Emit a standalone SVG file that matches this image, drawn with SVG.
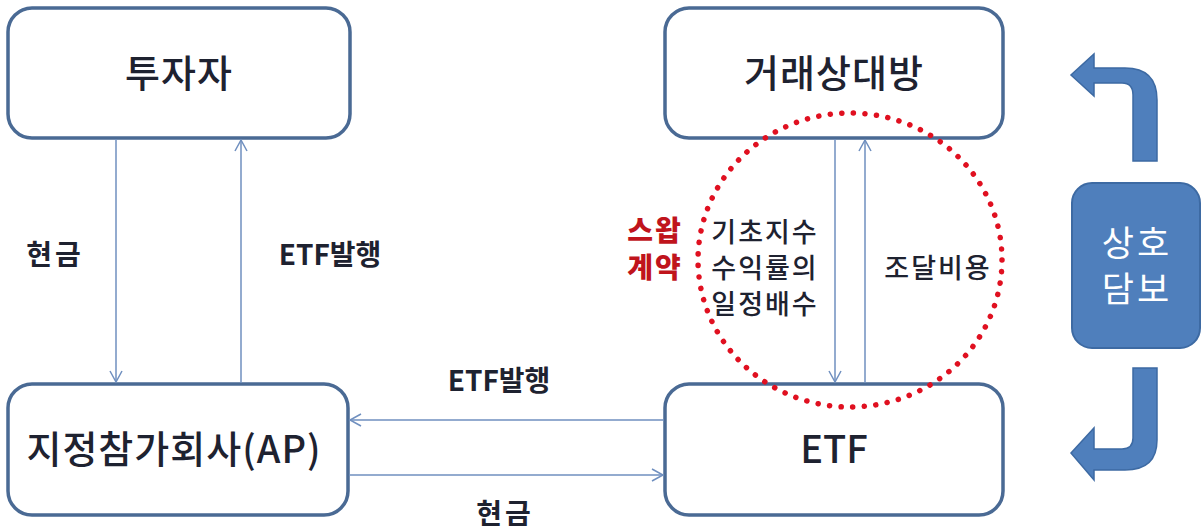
<svg xmlns="http://www.w3.org/2000/svg" width="1202" height="531" viewBox="0 0 1202 531">
<style>
.box{fill:#fff;stroke:#4a6a94;stroke-width:3.5}
.t{font-family:"Noto Sans CJK KR","Noto Sans",sans-serif;fill:#1e2230;text-anchor:middle}
.big{font-size:38px;font-weight:500}
.lab{font-size:28px;font-weight:700}
.mid{font-size:27px;font-weight:500;letter-spacing:2px}
.red{font-size:28px;font-weight:900;fill:#c0141c;letter-spacing:2px}
.ln{stroke:#6f8fbf;stroke-width:1.5;fill:none}
</style>
<defs>
<marker id="ah" markerWidth="14" markerHeight="14" refX="12" refY="7" orient="auto" markerUnits="userSpaceOnUse">
<path d="M1,1 L12,7 L1,13" fill="none" stroke="#6f8fbf" stroke-width="1.5"/>
</marker>
</defs>
<rect width="1202" height="531" fill="#fff"/>
<g id="investor"><rect class="box" x="8" y="8" width="342" height="130" rx="24"/><text class="t big" x="179" y="87" letter-spacing="1">투자자</text></g>
<g id="counterparty"><rect class="box" x="665" y="8" width="338" height="130" rx="24"/><text class="t big" x="834" y="87" letter-spacing="1">거래상대방</text></g>
<g id="ap"><rect class="box" x="8" y="384" width="340" height="131" rx="24"/><text class="t big" x="174" y="463" letter-spacing="1">지정참가회사(AP)</text></g>
<g id="etf"><rect class="box" x="665" y="384" width="338" height="131" rx="24"/><text class="t big" x="834" y="463">ETF</text></g>
<g id="connectors">
<line class="ln" x1="116" y1="139" x2="116" y2="382" marker-end="url(#ah)"/>
<line class="ln" x1="241" y1="383" x2="241" y2="140" marker-end="url(#ah)"/>
<line class="ln" x1="664" y1="420" x2="350" y2="420" marker-end="url(#ah)"/>
<line class="ln" x1="349" y1="475" x2="663" y2="475" marker-end="url(#ah)"/>
<line class="ln" x1="835" y1="139" x2="835" y2="382" marker-end="url(#ah)"/>
<line class="ln" x1="865" y1="383" x2="865" y2="140" marker-end="url(#ah)"/>
</g>
<g id="labels">
<text class="t lab" x="55" y="265" letter-spacing="3">현금</text>
<text class="t lab" x="330" y="265">ETF발행</text>
<text class="t lab" x="499" y="391">ETF발행</text>
<text class="t lab" x="505" y="524" letter-spacing="3">현금</text>
<text class="t red" x="655" y="241">스왑</text>
<text class="t red" x="655" y="278">계약</text>
<text class="t mid" x="765" y="242">기초지수</text>
<text class="t mid" x="765" y="278">수익률의</text>
<text class="t mid" x="765" y="314">일정배수</text>
<text class="t mid" x="938" y="278">조달비용</text>
</g>
<g id="swap-circle"><ellipse cx="850" cy="260" rx="152" ry="147" fill="none" stroke="#e01020" stroke-width="5.5" stroke-dasharray="0.1 11.5" stroke-linecap="round"/></g>
<g id="collateral">
<rect x="1072" y="183" width="128" height="165" rx="20" fill="#4f7fbc" stroke="#3d6aa3" stroke-width="2"/>
<text class="t" x="1137" y="256" style="font-size:35px;fill:#fff;font-weight:400" letter-spacing="3">상호</text>
<text class="t" x="1137" y="302" style="font-size:35px;fill:#fff;font-weight:400" letter-spacing="3">담보</text>
</g>
<g id="arrows" fill="#4f7fbc" stroke="#3d6aa3" stroke-width="1.5">
<path d="M1133,161 L1157,161 L1157,100 Q1157,68 1125,68 L1094,68 L1094,54 L1071,75 L1094,96 L1094,83 L1122,83 Q1133,83 1133,95 Z"/>
<path d="M1133,368 L1157,368 L1157,440 Q1157,470 1125,470 L1094,470 L1094,480 L1071,453 L1094,428 L1094,449 L1122,449 Q1133,449 1133,438 Z"/>
</g>
</svg>
